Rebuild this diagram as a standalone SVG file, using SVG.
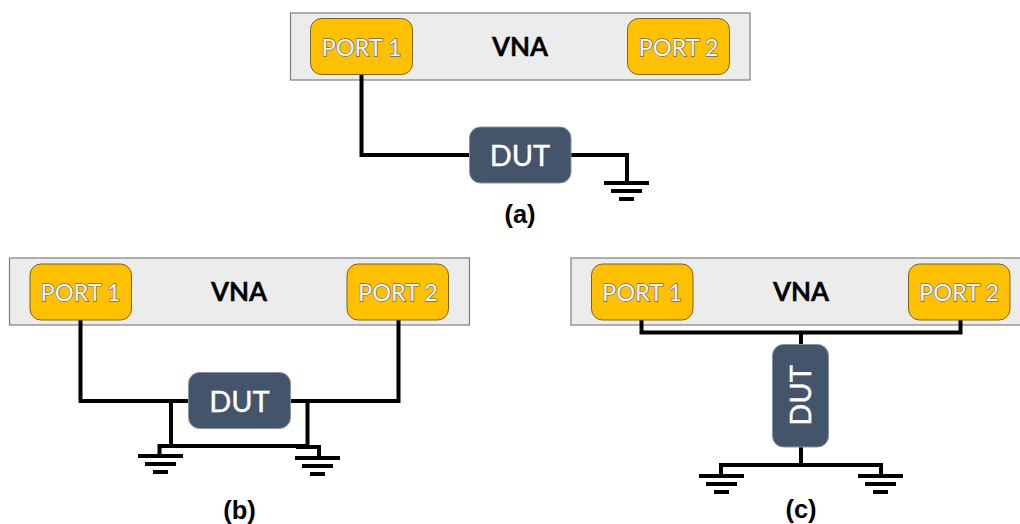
<svg xmlns="http://www.w3.org/2000/svg" width="1020" height="524" viewBox="0 0 1020 524">
<style>
.vna{fill:#ececec;stroke:#7f7f7f;stroke-width:1.2}
.port{fill:#ffc000;stroke:#7a6420;stroke-width:1}
.dut{fill:#44546a;stroke:#8a94a3;stroke-width:1}
.pt{font:23.500px Lato,"Open Sans",sans-serif;fill:#f4f4f4;stroke:#6b6b6b;stroke-width:1.300;paint-order:stroke;text-anchor:middle}
.dt{font:29px Lato,"Open Sans",sans-serif;fill:#fff;stroke:#fff;stroke-width:.4;text-anchor:middle}
.vt{font:bold 26px Lato,"Open Sans",sans-serif;fill:#000;stroke:#000;stroke-width:.3;text-anchor:middle}
.cap{font:bold 25.500px "Liberation Sans",Arial,sans-serif;fill:#000;text-anchor:middle}
.w{fill:none;stroke:#000;stroke-width:4}
</style>
<defs>
<g id="gnd"><path class="w" d="M-22.500 0H22.500M-15.500 8H15.500M-7.500 16H7.500"/></g>
</defs>
<g id="vna-a"><rect class="vna" x="290.500" y="13" width="459.500" height="67"/><text class="vt" x="520" y="56">VNA</text></g>
<g id="vna-b"><rect class="vna" x="9.500" y="258" width="460" height="67"/><text class="vt" x="239" y="301">VNA</text></g>
<g id="vna-c"><rect class="vna" x="571" y="258" width="460" height="67"/><text class="vt" x="801" y="301">VNA</text></g>
<g id="connectors">
<path class="w" d="M361.500 74V155H470M571 155H627V183"/>
<path class="w" d="M80.500 320V401H189M290 401H398.500V320M171 401V446M307.500 401V446M159.500 457V446H307.500M296 447H319V458"/>
<path class="w" d="M641.500 320V332.500H960.500V320M801 332V345M801 447V465M721 476V465H881V476"/>
<use href="#gnd" x="626.500" y="183"/>
<use href="#gnd" x="160.500" y="456"/>
<use href="#gnd" x="317.500" y="458"/>
<use href="#gnd" x="721.500" y="476"/>
<use href="#gnd" x="880.500" y="476"/>
</g>
<g id="port1-a"><rect class="port" x="310.500" y="18.500" width="102" height="56" rx="11"/><text class="pt" x="361.500" y="55.500">PORT 1</text></g>
<g id="port2-a"><rect class="port" x="627.500" y="18.500" width="102" height="56" rx="11"/><text class="pt" x="678.500" y="55.500">PORT 2</text></g>
<g id="dut-a"><rect class="dut" x="469.500" y="127" width="101.500" height="56" rx="11"/><text class="dt" x="520" y="166">DUT</text></g>
<g id="port1-b"><rect class="port" x="30" y="264" width="101.500" height="56" rx="11"/><text class="pt" x="80.500" y="301">PORT 1</text></g>
<g id="port2-b"><rect class="port" x="347" y="264" width="101.500" height="56" rx="11"/><text class="pt" x="398" y="301">PORT 2</text></g>
<g id="dut-b"><rect class="dut" x="188.500" y="372.500" width="102" height="56" rx="11"/><text class="dt" x="239.500" y="411.500">DUT</text></g>
<g id="port1-c"><rect class="port" x="591.500" y="264" width="101.500" height="56" rx="11"/><text class="pt" x="642" y="301">PORT 1</text></g>
<g id="port2-c"><rect class="port" x="908.500" y="264" width="101.500" height="56" rx="11"/><text class="pt" x="959" y="301">PORT 2</text></g>
<g id="dut-c"><rect class="dut" x="772.500" y="344.500" width="56" height="102.500" rx="11"/><text class="dt" transform="translate(811 395.500) rotate(-90)">DUT</text></g>
<text class="cap" x="520" y="223">(a)</text>
<text class="cap" x="239.500" y="518.500">(b)</text>
<text class="cap" x="801" y="518">(c)</text>
</svg>
